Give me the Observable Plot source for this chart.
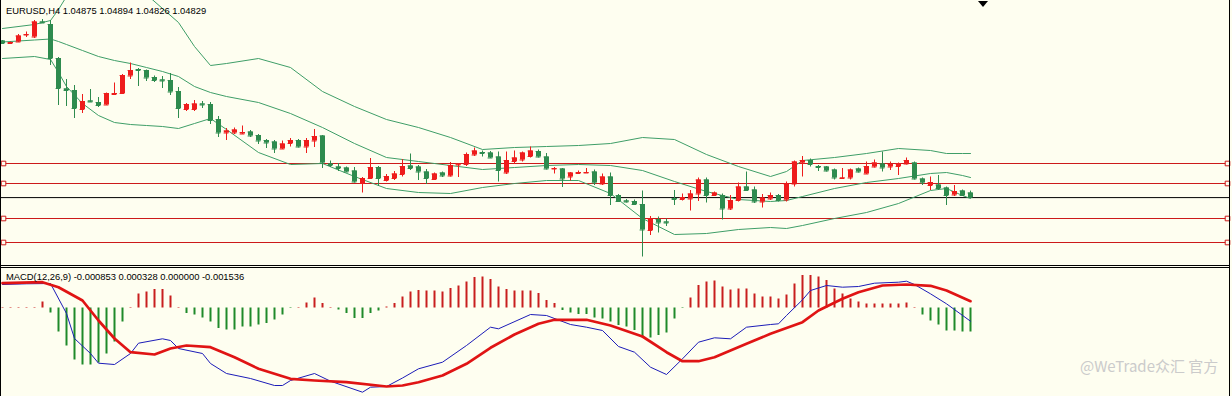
<!DOCTYPE html>
<html><head><meta charset="utf-8">
<script src="https://cdn.jsdelivr.net/npm/d3@7"></script>
<script src="https://cdn.jsdelivr.net/npm/@observablehq/plot@0.6"></script>
<style>
html,body{margin:0;padding:0;background:#fefef0;}
#wrap{position:relative;width:1232px;height:396px;overflow:hidden;background:#fefef0;}
#main{position:absolute;left:0;top:0;}
#macd{position:absolute;left:0;top:266px;}
.ln{position:absolute;background:#000;}
.ttl{position:absolute;left:6px;font-family:"Liberation Sans",Arial,sans-serif;font-size:9.4px;line-height:10px;color:#000;white-space:nowrap;}
#tri{position:absolute;left:978px;top:1px;width:0;height:0;border-left:5px solid transparent;border-right:5px solid transparent;border-top:6px solid #000;}
#wm{position:absolute;left:1080px;top:357px;font-family:"Noto Sans CJK SC","Noto Sans",sans-serif;font-size:15px;line-height:18px;color:#cbcbcb;white-space:nowrap;}
</style></head><body>
<div id="wrap">
  <div id="main"></div>
  <div id="macd"></div>
  <div class="ln" style="left:0;top:0;width:1px;height:396px"></div>
  <div class="ln" style="left:1229px;top:0;width:1px;height:396px"></div>
  <div class="ln" style="left:0;top:265px;width:1230px;height:1px"></div>
  <div class="ln" style="left:0;top:267px;width:1230px;height:1px"></div>
  <div id="tri"></div>
  <div class="ttl" id="t1" style="top:6px"></div>
  <div class="ttl" id="t2" style="top:272px"></div>
  <div id="wm">@WeTrade众汇 官方</div>
</div>
<script>
// ---------- DATA ----------
const symbolTitle = "EURUSD,H4 1.04875 1.04894 1.04826 1.04829";
const macdTitle = "MACD(12,26,9) -0.000853 0.000328 0.000000 -0.001536";

const candleOpen = [
1.06395,1.06370,1.06385,1.06455,1.06435,1.06585,1.06560,1.06220,1.05915,1.05900,
1.05710,1.05795,1.05780,1.05755,1.05860,1.05870,1.06045,1.06110,1.06100,1.06030,
1.06005,1.06000,1.05890,1.05710,1.05710,1.05765,1.05760,1.05610,1.05475,1.05475,
1.05465,1.05485,1.05450,1.05400,1.05385,1.05315,1.05370,1.05400,1.05335,1.05395,
1.05445,1.05165,1.05135,1.05125,1.05095,1.04970,1.05020,1.05130,1.05000,1.05020,
1.05060,1.05145,1.05135,1.05085,1.05010,1.05075,1.05045,1.05155,1.05160,1.05255,
1.05280,1.05275,1.05235,1.05075,1.05190,1.05205,1.05240,1.05290,1.05235,1.05115,
1.05115,1.05035,1.05070,1.05075,1.05085,1.04965,1.05035,1.04850,1.04795,1.04790,
1.04760,1.04500,1.04610,1.04585,1.04820,1.04810,1.04815,1.04865,1.05005,1.04850,
1.04850,1.04715,1.04800,1.04935,1.04905,1.04785,1.04815,1.04850,1.04805,1.04965,
1.05175,1.05200,1.05140,1.05135,1.05105,1.05020,1.05025,1.05115,1.05065,1.05135,
1.05165,1.05135,1.05140,1.05165,1.05175,1.05015,1.04950,1.04955,1.04925,1.04855,
1.04895,1.04875];
const candleHigh = [
1.06400,1.06385,1.06460,1.06485,1.06600,1.06610,1.06600,1.06230,1.06010,1.05950,
1.05860,1.05910,1.05830,1.05875,1.05975,1.06060,1.06175,1.06120,1.06105,1.06045,
1.06040,1.06070,1.05930,1.05770,1.05800,1.05790,1.05780,1.05640,1.05520,1.05525,
1.05545,1.05500,1.05460,1.05410,1.05400,1.05395,1.05420,1.05410,1.05420,1.05510,
1.05450,1.05195,1.05170,1.05135,1.05130,1.05030,1.05220,1.05140,1.05060,1.05090,
1.05210,1.05265,1.05150,1.05110,1.05075,1.05085,1.05180,1.05170,1.05275,1.05325,
1.05295,1.05290,1.05285,1.05285,1.05295,1.05285,1.05335,1.05305,1.05270,1.05130,
1.05120,1.05080,1.05095,1.05120,1.05105,1.05065,1.05075,1.04860,1.04810,1.04805,
1.04895,1.04640,1.04635,1.04615,1.04900,1.04865,1.04900,1.05025,1.05025,1.04885,
1.04865,1.04850,1.04975,1.05085,1.04935,1.04860,1.04875,1.04860,1.04985,1.05195,
1.05240,1.05215,1.05150,1.05140,1.05115,1.05120,1.05115,1.05125,1.05185,1.05205,
1.05285,1.05185,1.05175,1.05225,1.05185,1.05025,1.05035,1.05050,1.04935,1.04950,
1.04905,1.04894];
const candleLow = [
1.06365,1.06365,1.06380,1.06430,1.06420,1.06570,1.06150,1.05750,1.05740,1.05620,
1.05670,1.05780,1.05730,1.05750,1.05850,1.05860,1.06010,1.05940,1.05990,1.05980,
1.05920,1.05850,1.05620,1.05690,1.05690,1.05720,1.05560,1.05430,1.05400,1.05460,
1.05460,1.05430,1.05360,1.05320,1.05270,1.05310,1.05335,1.05325,1.05270,1.05330,
1.05120,1.05130,1.05090,1.05080,1.04975,1.04875,1.05010,1.04940,1.04985,1.05000,
1.05035,1.05100,1.05000,1.04960,1.05000,1.05030,1.05035,1.05030,1.05140,1.05240,
1.05235,1.05220,1.04985,1.05060,1.05160,1.05185,1.05225,1.05225,1.05105,1.05065,
1.04930,1.04995,1.05060,1.05070,1.04950,1.04950,1.04750,1.04780,1.04775,1.04750,
1.04235,1.04450,1.04475,1.04540,1.04750,1.04795,1.04695,1.04790,1.04775,1.04840,
1.04605,1.04700,1.04785,1.04895,1.04770,1.04725,1.04800,1.04785,1.04785,1.04935,
1.05035,1.05135,1.05090,1.05085,1.05005,1.05015,1.05005,1.05075,1.05060,1.05125,
1.05085,1.05100,1.05050,1.05155,1.05005,1.04950,1.04900,1.04900,1.04750,1.04840,
1.04840,1.04826];
const candleClose = [
1.06370,1.06380,1.06445,1.06460,1.06585,1.06575,1.06220,1.05920,1.05900,1.05720,
1.05790,1.05785,1.05750,1.05870,1.05870,1.06050,1.06100,1.06100,1.06025,1.06000,
1.05995,1.05885,1.05720,1.05760,1.05765,1.05755,1.05600,1.05475,1.05495,1.05505,
1.05480,1.05445,1.05395,1.05375,1.05315,1.05365,1.05400,1.05335,1.05400,1.05440,
1.05175,1.05150,1.05120,1.05085,1.04985,1.05020,1.05130,1.05020,1.05040,1.05065,
1.05140,1.05120,1.05085,1.05020,1.05065,1.05045,1.05150,1.05165,1.05260,1.05295,
1.05270,1.05225,1.05100,1.05200,1.05225,1.05275,1.05295,1.05235,1.05115,1.05120,
1.05015,1.05075,1.05080,1.05080,1.04975,1.05035,1.04850,1.04790,1.04785,1.04760,
1.04505,1.04615,1.04575,1.04575,1.04810,1.04830,1.04865,1.05005,1.04850,1.04875,
1.04715,1.04800,1.04935,1.04900,1.04785,1.04825,1.04850,1.04800,1.04965,1.05185,
1.05200,1.05160,1.05130,1.05095,1.05025,1.05025,1.05105,1.05085,1.05140,1.05175,
1.05125,1.05160,1.05165,1.05200,1.05015,1.04975,1.04980,1.04920,1.04850,1.04890,
1.04850,1.04829];

// Bollinger bands (20), read at these bar indices
const bandIdx = [0,4,6,7,8,10,12,14,16,18,20,22,24,26,28,32,36,40,44,48,52,56,60,64,68,72,76,80,84,88,92,96,98,100,104,108,112,116,118,120,121];
const bandUpper = [1.06520,1.06560,1.06600,1.06710,1.06840,1.06950,1.07020,1.07040,1.07020,1.06860,
1.06720,1.06580,1.06340,1.06150,1.06170,1.06220,1.06130,1.05890,1.05740,1.05610,
1.05530,1.05430,1.05310,1.05330,1.05340,1.05350,1.05370,1.05430,1.05410,1.05260,
1.05140,1.05040,1.05090,1.05200,1.05230,1.05270,1.05320,1.05300,1.05270,1.05270,1.05270];
const bandMid = [1.06385,1.06405,1.06415,1.06390,1.06360,1.06300,1.06240,1.06200,1.06170,1.06130,
1.06090,1.06040,1.05940,1.05880,1.05840,1.05780,1.05670,1.05530,1.05370,1.05230,
1.05190,1.05150,1.05110,1.05130,1.05150,1.05160,1.05150,1.05100,1.04990,1.04890,
1.04810,1.04790,1.04800,1.04840,1.04920,1.04980,1.05020,1.05070,1.05080,1.05050,1.05030];
const bandLower = [1.06220,1.06240,1.06210,1.06080,1.05940,1.05770,1.05650,1.05580,1.05560,1.05550,
1.05540,1.05520,1.05570,1.05620,1.05510,1.05280,1.05160,1.05170,1.05040,1.04920,
1.04880,1.04870,1.04930,1.04970,1.05000,1.05000,1.04870,1.04620,1.04460,1.04470,
1.04510,1.04530,1.04520,1.04550,1.04620,1.04680,1.04770,1.04900,1.04920,1.04850,1.04820];

// horizontal levels
const levelLines = [1.0517, 1.0497, 1.0462, 1.0438];
const bidLevel = 1.04829;

// MACD panel
const macdIdx = [0,3,6,8,9,11,12,14,16,17,20,21,22,25,26,28,31,34,35,36,39,41,45,46,48,50,52,55,58,61,62,66,68,71,73,75,77,79,81,83,85,87,89,91,93,96,97,98,100,101,103,105,107,109,112,113,114,116,118,121];
const macdMain = [0.000705,0.000726,0.000735,-0.000165,-0.000915,-0.001365,-0.001656,-0.001695,-0.001365,-0.001056,
-0.000924,-0.000975,-0.001215,-0.001365,-0.001665,-0.001965,-0.002115,-0.002325,-0.002325,-0.002175,
-0.001965,-0.002196,-0.002526,-0.002376,-0.002355,-0.0021,-0.001824,-0.001626,-0.001125,-0.000576,
-0.000624,-0.000195,-0.000225,-0.000495,-0.000576,-0.000675,-0.001155,-0.001326,-0.001776,-0.001995,
-0.001524,-0.001026,-0.000894,-0.000924,-0.000576,-0.000495,-0.000474,-0.000225,0.000246,0.000525,
0.000675,0.000624,0.000645,0.000744,0.000774,0.000804,0.000705,0.000426,0.000126,-0.000396];
const signalIdx = [0,5,7,10,12,14,16,19,21,23,26,29,32,36,39,43,48,50,52,55,58,61,64,67,69,73,76,80,83,85,87,89,93,96,100,102,105,107,110,113,116,118,121];
const signalVals = [0.000744,0.000774,0.000624,0.000225,-0.000375,-0.000915,-0.001326,-0.001395,-0.001215,-0.001125,
-0.001176,-0.001476,-0.001824,-0.002124,-0.002175,-0.002226,-0.002355,-0.002325,-0.002226,-0.002025,
-0.001674,-0.001194,-0.000795,-0.000474,-0.000354,-0.000354,-0.000525,-0.000855,-0.001326,-0.001596,
-0.001596,-0.001476,-0.001074,-0.000774,-0.000426,-0.000075,0.000276,0.000474,0.000675,0.000705,
0.000666,0.000525,0.000204];
const histVals = [
0.000015,0.000015,0.000015,0.000015,0.000015,0.00018,-0.00015,-0.00072,-0.00114,-0.00156,
-0.00171,-0.00171,-0.00165,-0.00138,-0.00102,-0.00042,0.000015,0.00042,0.00048,0.000555,
0.000555,0.00036,0.000015,-0.000165,-0.00021,-0.0003,-0.00042,-0.000615,-0.00066,-0.00066,
-0.00057,-0.00057,-0.00051,-0.000465,-0.00036,-0.00021,-0.000015,0.000015,0.00015,0.0003,
0.000135,0.000015,-0.00006,-0.000165,-0.000315,-0.000315,-0.000165,-0.00009,0.00003,0.000135,
0.00033,0.00048,0.000525,0.00051,0.00051,0.00048,0.000585,0.00066,0.00078,0.000915,
0.00093,0.000855,0.00063,0.000555,0.00051,0.00051,0.00051,0.000435,0.000225,0.000135,
-0.000075,-0.00015,-0.000195,-0.000195,-0.0003,-0.00033,-0.00042,-0.000525,-0.00057,-0.000675,
-0.0009,-0.0009,-0.000825,-0.00075,-0.00033,-0.000015,0.0003,0.000675,0.00078,0.00081,
0.00063,0.00054,0.00057,0.00057,0.00042,0.00033,0.00033,0.00027,0.00039,0.00072,
0.000975,0.000975,0.00093,0.000825,0.00057,0.00042,0.00027,0.00018,0.00012,0.00012,
0.00012,0.00012,0.00012,0.00015,0.000015,-0.00021,-0.00039,-0.00051,-0.00069,-0.00069,
-0.00072,-0.00072];

// ---------- STYLE ----------
const BULL = "#ee1c1c", BEAR = "#2e8b4e", BAND = "#3f9e68", LEVEL = "#cc1a1a";
const HUP = "#c81e1e", HDN = "#1f8a2a";
const xDomain = [-0.25, 153.375];

const candles = candleOpen.map((o, i) => ({i, o, h: candleHigh[i], l: candleLow[i], c: candleClose[i]}));
const cc = d => d.c >= d.o ? BULL : BEAR;
const bands = bandIdx.map((i, k) => ({i, u: bandUpper[k], m: bandMid[k], lo: bandLower[k]}));

const mainPlot = Plot.plot({
  width: 1232, height: 266,
  marginLeft: 0, marginRight: 3, marginTop: 0, marginBottom: 1,
  x: {domain: xDomain, axis: null},
  y: {domain: [1.0415, 1.0680], axis: null},
  style: {background: "transparent", overflow: "visible"},
  marks: [
    Plot.ruleY(levelLines, {y: d => d, stroke: LEVEL, strokeWidth: 1.2}),
    Plot.ruleY([bidLevel], {y: d => d, stroke: "#000", strokeWidth: 1}),
    Plot.line(bands, {x: "i", y: "u", stroke: BAND, strokeWidth: 1, clip: true}),
    Plot.line(bands, {x: "i", y: "m", stroke: BAND, strokeWidth: 1, clip: true}),
    Plot.line(bands, {x: "i", y: "lo", stroke: BAND, strokeWidth: 1, clip: true}),
    Plot.ruleX(candles, {x: "i", y1: "l", y2: "h", stroke: cc, strokeWidth: 1}),
    Plot.ruleX(candles, {x: "i", y1: "o", y2: "c", stroke: cc, strokeWidth: 5}),
    Plot.ruleY(candles, {y: "o", x1: d => d.i - 0.3, x2: d => d.i + 0.3, stroke: cc, strokeWidth: 1}),
    Plot.ruleY(candles, {y: "c", x1: d => d.i - 0.3, x2: d => d.i + 0.3, stroke: cc, strokeWidth: 1}),
    Plot.dot(levelLines, {y: d => d, frameAnchor: "left", dx: 3, symbol: "square", r: 2.6, stroke: LEVEL, fill: "#fefef0", strokeWidth: 1}),
    Plot.dot(levelLines, {y: d => d, frameAnchor: "right", dx: -2, symbol: "square", r: 2.6, stroke: LEVEL, fill: "#fefef0", strokeWidth: 1})
  ]
});
document.getElementById("main").appendChild(mainPlot);

const hist = histVals.map((v, i) => ({i, v}));
const macdLine = macdIdx.map((i, k) => ({i, v: macdMain[k]}));
const sigLine = signalIdx.map((i, k) => ({i, v: signalVals[k]}));

const macdPlot = Plot.plot({
  width: 1232, height: 130,
  marginLeft: 0, marginRight: 3, marginTop: 1, marginBottom: 0,
  x: {domain: xDomain, axis: null},
  y: {domain: [-0.002655, 0.001215], axis: null},
  style: {background: "transparent", overflow: "visible"},
  marks: [
    Plot.ruleX(hist, {x: "i", y1: 0, y2: "v", stroke: d => d.v >= 0 ? HUP : HDN, strokeWidth: 2}),
    Plot.line(macdLine, {x: "i", y: "v", stroke: "#1c1cb8", strokeWidth: 1}),
    Plot.line(sigLine, {x: "i", y: "v", stroke: "#e01414", strokeWidth: 2.7})
  ]
});
document.getElementById("macd").appendChild(macdPlot);

document.getElementById("t1").textContent = symbolTitle;
document.getElementById("t2").textContent = macdTitle;
</script>
</body></html>
